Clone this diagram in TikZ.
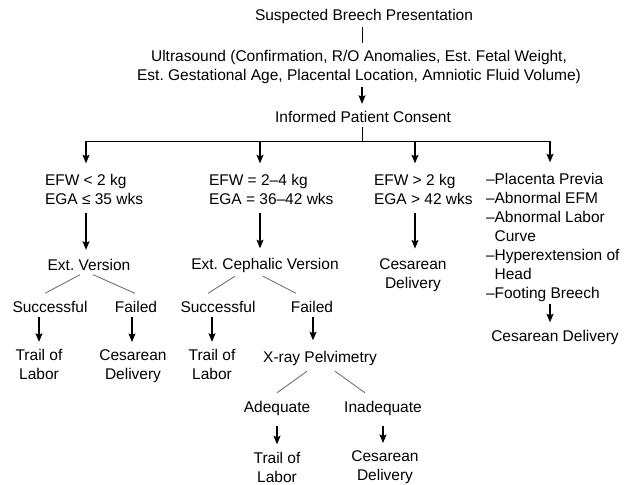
\documentclass[tikz,border=0pt]{standalone}
\usepackage{fontspec}
\setmainfont{Liberation Sans}
\usetikzlibrary{arrows.meta}
\frenchspacing
\begin{document}
\begin{tikzpicture}[x=1pt,y=-1pt,
  txt/.style={font=\fontsize{15.5}{19}\selectfont\frenchspacing, inner sep=0pt, outer sep=0pt, align=center},
  ltxt/.style={txt, align=left, anchor=west},
  arr/.style={line width=1.1pt, -{Stealth[length=8.5pt,width=7pt,inset=1.5pt]}, shorten <=5pt, shorten >=8pt},
  plain/.style={line width=1pt},
  diag/.style={line width=0.8pt, draw=black!60}]
\useasboundingbox[fill=white] (0,0) rectangle (628,484);

% top chain
\node[txt] (sbp) at (364,16) {Suspected Breech Presentation};
\node[txt] (us) at (359,67) {Ultrasound (Confirmation, R/O Anomalies, Est. Fetal Weight,\\Est. Gestational Age, Placental Location, Amniotic Fluid Volume)};
\node[txt] (ipc) at (363,117) {Informed Patient Consent};

\coordinate (b0) at (362,141);
\coordinate (b1) at (86,141);
\coordinate (b2) at (260,141);
\coordinate (b3) at (415,141);
\coordinate (b4) at (550,141);

\draw[plain, shorten <=4pt, shorten >=7pt] (sbp.south -| b0) -- (us.north -| b0);
\draw[arr, shorten <=3pt, shorten >=7.5pt] (us.south -| b0) -- (ipc.north -| b0);
\draw[plain, shorten <=4.5pt] (ipc.south -| b0) -- (b0);
\draw[plain] (b1) -- (b4);

% column nodes
\node[ltxt] (c1) at (45,189) {EFW < 2 kg\\EGA ≤ 35 wks};
\node[ltxt] (c2) at (209,189) {EFW = 2–4 kg\\EGA = 36–42 wks};
\node[ltxt] (c3) at (374,189) {EFW > 2 kg\\EGA > 42 wks};
\node[ltxt] (c4) at (486,237) {–Placenta Previa\\–Abnormal EFM\\–Abnormal Labor\\\hphantom{–}Curve\\–Hyperextension of\\\hphantom{–}Head\\–Footing Breech};

\draw[arr, shorten <=0pt, shorten >=10.5pt] (b1) -- (c1.north -| b1);
\draw[arr, shorten <=0pt, shorten >=10.5pt] (b2) -- (c2.north -| b2);
\draw[arr, shorten <=0pt, shorten >=10.5pt] (b3) -- (c3.north -| b3);
\draw[arr, shorten <=0pt, shorten >=10.5pt] (b4) -- (c4.north -| b4);

% second level
\node[txt] (ev) at (89,265) {Ext. Version};
\node[txt] (ecv) at (265,265) {Ext. Cephalic Version};
\node[txt] (cd3) at (413,275.5) {Cesarean\\Delivery};
\node[txt] (cd4) at (555,337) {Cesarean Delivery};

\draw[arr, shorten <=8.5pt, shorten >=9.5pt] (c1.south -| b1) -- (ev.north -| b1);
\draw[arr, shorten <=8.5pt, shorten >=9.5pt] (c2.south -| b2) -- (ecv.north -| b2);
\draw[arr, shorten <=8.5pt, shorten >=10.5pt] (c3.south -| b3) -- (cd3.north -| b3);
\draw[arr, shorten <=2.5pt, shorten >=7.5pt] (c4.south -| b4) -- (cd4.north -| b4);

% third level
\node[txt] (s1) at (50,307) {Successful};
\node[txt] (f1) at (136,307) {Failed};
\node[txt] (s2) at (218,307) {Successful};
\node[txt] (f2) at (312,307) {Failed};

\draw[diag] ([xshift=-9pt,yshift=-4pt]ev.south) -- ([xshift=-5pt,yshift=8pt]s1.north);
\draw[diag] ([xshift=4pt,yshift=-4pt]ev.south) -- ([xshift=-1pt,yshift=8pt]f1.north);
\draw[diag] ([xshift=-30pt,yshift=-4pt]ecv.south) -- ([xshift=-10pt,yshift=8pt]s2.north);
\draw[diag] ([xshift=-2pt,yshift=-4pt]ecv.south) -- ([xshift=-16pt,yshift=8pt]f2.north);

\coordinate (a1) at (39,0);
\coordinate (a2) at (132,0);
\coordinate (a3) at (212,0);
\coordinate (a4) at (313,0);

\node[txt] (t1) at (39,364.5) {Trail of\\Labor};
\node[txt] (cd1) at (133,366) {Cesarean\\Delivery};
\node[txt] (t2) at (212,364.5) {Trail of\\Labor};
\node[txt] (xr) at (320,358) {X-ray Pelvimetry};

\draw[arr, shorten <=4.5pt, shorten >=7.5pt] (s1.south -| a1) -- (t1.north -| a1);
\draw[arr, shorten <=4.5pt, shorten >=7.5pt] (f1.south -| a2) -- (cd1.north -| a2);
\draw[arr, shorten <=4.5pt, shorten >=7.5pt] (s2.south -| a3) -- (t2.north -| a3);
\draw[arr, shorten <=4.5pt, shorten >=10.5pt] (f2.south -| a4) -- (xr.north -| a4);

% fourth level
\node[txt] (ad) at (277,408) {Adequate};
\node[txt] (inad) at (383,408) {Inadequate};
\draw[diag] ([xshift=-13pt,yshift=-6pt]xr.south) -- ([xshift=0pt,yshift=8pt]ad.north);
\draw[diag] ([xshift=15pt,yshift=-6pt]xr.south) -- ([xshift=-18pt,yshift=8pt]inad.north);

\node[txt] (t3) at (277,467) {Trail of\\Labor};
\node[txt] (cd5) at (385,467) {Cesarean\\Delivery};
\coordinate (a5) at (277,0);
\coordinate (a6) at (383,0);
\draw[arr, shorten <=11pt, shorten >=7.5pt] (ad.south -| a5) -- (t3.north -| a5);
\draw[arr, shorten <=11pt, shorten >=7.5pt] (inad.south -| a6) -- (cd5.north -| a6);
\end{tikzpicture}
\end{document}
